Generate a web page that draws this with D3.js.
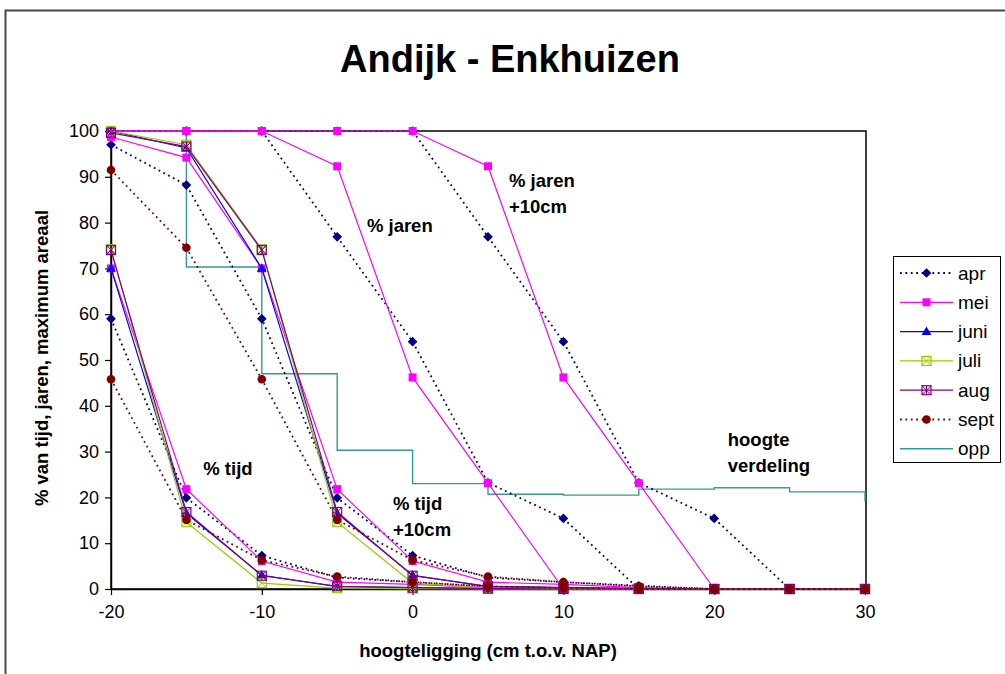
<!DOCTYPE html>
<html>
<head>
<meta charset="utf-8">
<script src="https://cdn.jsdelivr.net/npm/d3@7"></script>
<style>
  html, body { margin: 0; padding: 0; background: #fff; }
  svg { display: block; font-family: "Liberation Sans", Arial, sans-serif; }
</style>
</head>
<body>
<svg id="chart" width="1005" height="674"></svg>
<script>
// Heights (cm relative to NAP) at which every curve is sampled
const hoogte = [-20, -15, -10, -5, 0, 5, 10, 15, 20, 25, 30];
const yTicks = [0, 10, 20, 30, 40, 50, 60, 70, 80, 90, 100];
const xTicks = [-20, -10, 0, 10, 20, 30];

// % of time flooded, per month
const tijdApr  = [59, 19.9, 7.3, 2.5, 1.5, 0.5, 0.2, 0, 0, 0, 0];
const tijdMei  = [70, 21.8, 6.1, 1.5, 1.0, 0.3, 0.1, 0, 0, 0, 0];
const tijdJuni = [70, 16.5, 3.0, 0.5, 0.3, 0.1, 0, 0, 0, 0, 0];
const tijdJuli = [74.2, 14.6, 1.3, 0.2, 0.1, 0, 0, 0, 0, 0, 0];
const tijdAug  = [74, 16.8, 2.9, 0.6, 0.3, 0.1, 0, 0, 0, 0, 0];
const tijdSept = [45.8, 15.1, 6.3, 2.7, 1.5, 0.6, 0.2, 0, 0, 0, 0];

// % of time flooded with a water level 10 cm higher
const tijd10Apr  = [97, 88.2, 59, 19.9, 7.3, 2.5, 1.5, 0.7, 0, 0, 0];
const tijd10Mei  = [98.7, 94.2, 70, 21.8, 6.1, 1.5, 1.0, 0.3, 0, 0, 0];
const tijd10Juni = [100, 96.3, 70, 16.5, 3.0, 0.5, 0.3, 0.1, 0, 0, 0];
const tijd10Juli = [100, 97, 74.2, 14.6, 1.3, 0.2, 0.1, 0, 0, 0, 0];
const tijd10Aug  = [99.6, 96.6, 74, 16.8, 2.9, 0.6, 0.3, 0.1, 0, 0, 0];
const tijd10Sept = [91.5, 74.5, 45.8, 15.1, 6.3, 2.7, 1.5, 0.6, 0, 0, 0];

// % of years flooded (apr, mei) and with +10 cm
const jarenApr   = [100, 100, 100, 76.9, 54, 23.2, 15.4, 0, 0, 0, 0];
const jarenMei   = [100, 100, 100, 92.3, 46.2, 23.1, 0, 0, 0, 0, 0];
const jaren10Apr = [100, 100, 100, 100, 100, 76.9, 54, 23.2, 15.4, 0, 0];
const jaren10Mei = [100, 100, 100, 100, 100, 92.3, 46.2, 23.1, 0, 0, 0];

// Area distribution (step line)
const oppX = [-20, -15, -10, -5, 0, 5, 10, 15, 20, 25, 30];
const oppY = [100, 70.3, 47, 30.3, 23, 20.7, 20.5, 21.8, 22.1, 21.2, 19.2];

const months = ["apr", "mei", "juni", "juli", "aug", "sept"];
const monthColor = { apr: "#000080", mei: "#FF00FF", juni: "#0000FF", juli: "#99CC00", aug: "#800080", sept: "#800000", opp: "#339999" };
const monthDotted = { apr: true, sept: true };

const curves = [
  { m: "apr", v: tijdApr }, { m: "apr", v: tijd10Apr }, { m: "apr", v: jarenApr }, { m: "apr", v: jaren10Apr },
  { m: "mei", v: tijdMei }, { m: "mei", v: tijd10Mei }, { m: "mei", v: jarenMei }, { m: "mei", v: jaren10Mei },
  { m: "juni", v: tijdJuni }, { m: "juni", v: tijd10Juni },
  { m: "juli", v: tijdJuli }, { m: "juli", v: tijd10Juli },
  { m: "aug", v: tijdAug }, { m: "aug", v: tijd10Aug },
  { m: "sept", v: tijdSept }, { m: "sept", v: tijd10Sept }
];

const svg = d3.select("#chart");
const plot = { left: 111, right: 865, top: 131, bottom: 589 };

const x = d3.scaleLinear().domain([-20, 30]).range([plot.left, plot.right]);
const y = d3.scaleLinear().domain([0, 100]).range([plot.bottom, plot.top]);

// Chart area frame
svg.append("rect").attr("x", 5.5).attr("y", 10.5).attr("width", 1200).attr("height", 1000)
  .attr("fill", "none").attr("stroke", "#4a4a4a").attr("stroke-width", 2);

// Title
svg.append("text").attr("x", 510).attr("y", 72).attr("text-anchor", "middle")
  .attr("font-size", 38).attr("font-weight", "bold").text("Andijk - Enkhuizen");

// Plot area frame
svg.append("rect").attr("x", plot.left).attr("y", plot.top)
  .attr("width", plot.right - plot.left + 1).attr("height", plot.bottom - plot.top)
  .attr("fill", "none").attr("stroke", "#000").attr("stroke-width", 1.5);

// Axes (plain hyphen for negative numbers)
const fmt = d => String(d);
const yAxis = svg.append("g").attr("transform", `translate(${plot.left},0)`)
  .call(d3.axisLeft(y).tickValues(yTicks).tickFormat(fmt).tickSize(6).tickSizeOuter(0).tickPadding(6));
const xAxis = svg.append("g").attr("transform", `translate(0,${plot.bottom})`)
  .call(d3.axisBottom(x).tickValues(xTicks).tickFormat(fmt).tickSize(6).tickSizeOuter(0).tickPadding(10));
[yAxis, xAxis].forEach(g => {
  g.select(".domain").attr("stroke", "#000").attr("stroke-width", 1.5);
  g.selectAll(".tick line").attr("stroke", "#000").attr("stroke-width", 1.2);
  g.selectAll(".tick text").attr("font-size", 18).attr("fill", "#000")
    .attr("font-family", "Liberation Sans, Arial, sans-serif");
});

// Axis titles
svg.append("text").attr("x", 488).attr("y", 657).attr("text-anchor", "middle")
  .attr("font-size", 18.5).attr("font-weight", "bold").text("hoogteligging (cm t.o.v. NAP)");
svg.append("text").attr("transform", "translate(48,358) rotate(-90)").attr("text-anchor", "middle")
  .attr("font-size", 18.5).attr("font-weight", "bold").text("% van tijd, jaren, maximum areaal");

// Area distribution step line
const oppLine = d3.line().curve(d3.curveStepAfter).x(d => x(d[0])).y(d => y(d[1]));
svg.append("path").datum(oppX.map((h, i) => [h, oppY[i]]))
  .attr("d", oppLine).attr("fill", "none").attr("stroke", monthColor.opp).attr("stroke-width", 1.4);

// Marker drawing
function drawMarker(g, m, cx, cy) {
  const c = monthColor[m];
  if (m === "apr") {
    g.append("path").attr("d", d3.symbol(d3.symbolDiamond2, 60)())
      .attr("transform", `translate(${cx},${cy})`).attr("fill", c);
  } else if (m === "mei") {
    g.append("rect").attr("x", cx - 4).attr("y", cy - 4).attr("width", 8).attr("height", 8).attr("fill", c);
  } else if (m === "juni") {
    g.append("path").attr("d", d3.symbol(d3.symbolTriangle, 42)())
      .attr("transform", `translate(${cx},${cy + 0.5})`).attr("fill", c);
  } else if (m === "juli" || m === "aug") {
    const s = 4.5;
    g.append("rect").attr("x", cx - s).attr("y", cy - s).attr("width", 2 * s).attr("height", 2 * s)
      .attr("fill", "none").attr("stroke", c).attr("stroke-width", 1.2);
    let d = `M${cx - s},${cy - s}L${cx + s},${cy + s}M${cx + s},${cy - s}L${cx - s},${cy + s}`;
    if (m === "aug") d += `M${cx},${cy - s}L${cx},${cy + s}`;
    g.append("path").attr("d", d).attr("stroke", c).attr("stroke-width", 1);
  } else if (m === "sept") {
    g.append("circle").attr("cx", cx).attr("cy", cy).attr("r", 4.3).attr("fill", c);
  }
}

function styleLine(sel, m) {
  sel.attr("fill", "none").attr("stroke", monthColor[m])
    .attr("stroke-width", monthDotted[m] ? 1.8 : 1.2);
  if (monthDotted[m]) sel.attr("stroke-dasharray", "1.8,3.6");
  return sel;
}

const line = d3.line().x(d => x(d[0])).y(d => y(d[1]));
const series = svg.append("g");
curves.forEach(cv => {
  const pts = hoogte.map((h, i) => [h, cv.v[i]]);
  const g = series.append("g");
  styleLine(g.append("path").datum(pts).attr("d", line), cv.m);
  pts.forEach(p => drawMarker(g, cv.m, x(p[0]), y(p[1])));
});

// Curve annotations
const notes = [
  { lines: ["% jaren"], h: -3.03, v: 78.0 },
  { lines: ["% jaren", "+10cm"], h: 6.39, v: 87.8 },
  { lines: ["% tijd"], h: -13.88, v: 24.9 },
  { lines: ["% tijd", "+10cm"], h: -1.30, v: 17.2 },
  { lines: ["hoogte", "verdeling"], h: 20.9, v: 31.2 }
];
notes.forEach(n => {
  const t = svg.append("text").attr("x", x(n.h)).attr("y", y(n.v))
    .attr("font-size", 18.5).attr("font-weight", "bold").attr("fill", "#000");
  n.lines.forEach((s, i) => t.append("tspan").attr("x", x(n.h)).attr("dy", i === 0 ? 0 : 26).text(s));
});

// Legend
const legendNames = ["apr", "mei", "juni", "juli", "aug", "sept", "opp"];
const lg = svg.append("g").attr("transform", "translate(893,256)");
lg.append("rect").attr("x", 0.5).attr("y", 0.5).attr("width", 107).attr("height", 206)
  .attr("fill", "#fff").attr("stroke", "#000").attr("stroke-width", 1);
legendNames.forEach((m, i) => {
  const cy = 17 + i * 29.3;
  const ln = lg.append("line").attr("x1", 7).attr("x2", 60).attr("y1", cy).attr("y2", cy);
  if (m === "opp") ln.attr("stroke", monthColor.opp).attr("stroke-width", 1.4);
  else styleLine(ln, m);
  if (m !== "opp") drawMarker(lg, m, 33.5, cy);
  lg.append("text").attr("x", 65).attr("y", cy + 6.5).attr("font-size", 19).attr("fill", "#000").text(m);
});
</script>
</body>
</html>
